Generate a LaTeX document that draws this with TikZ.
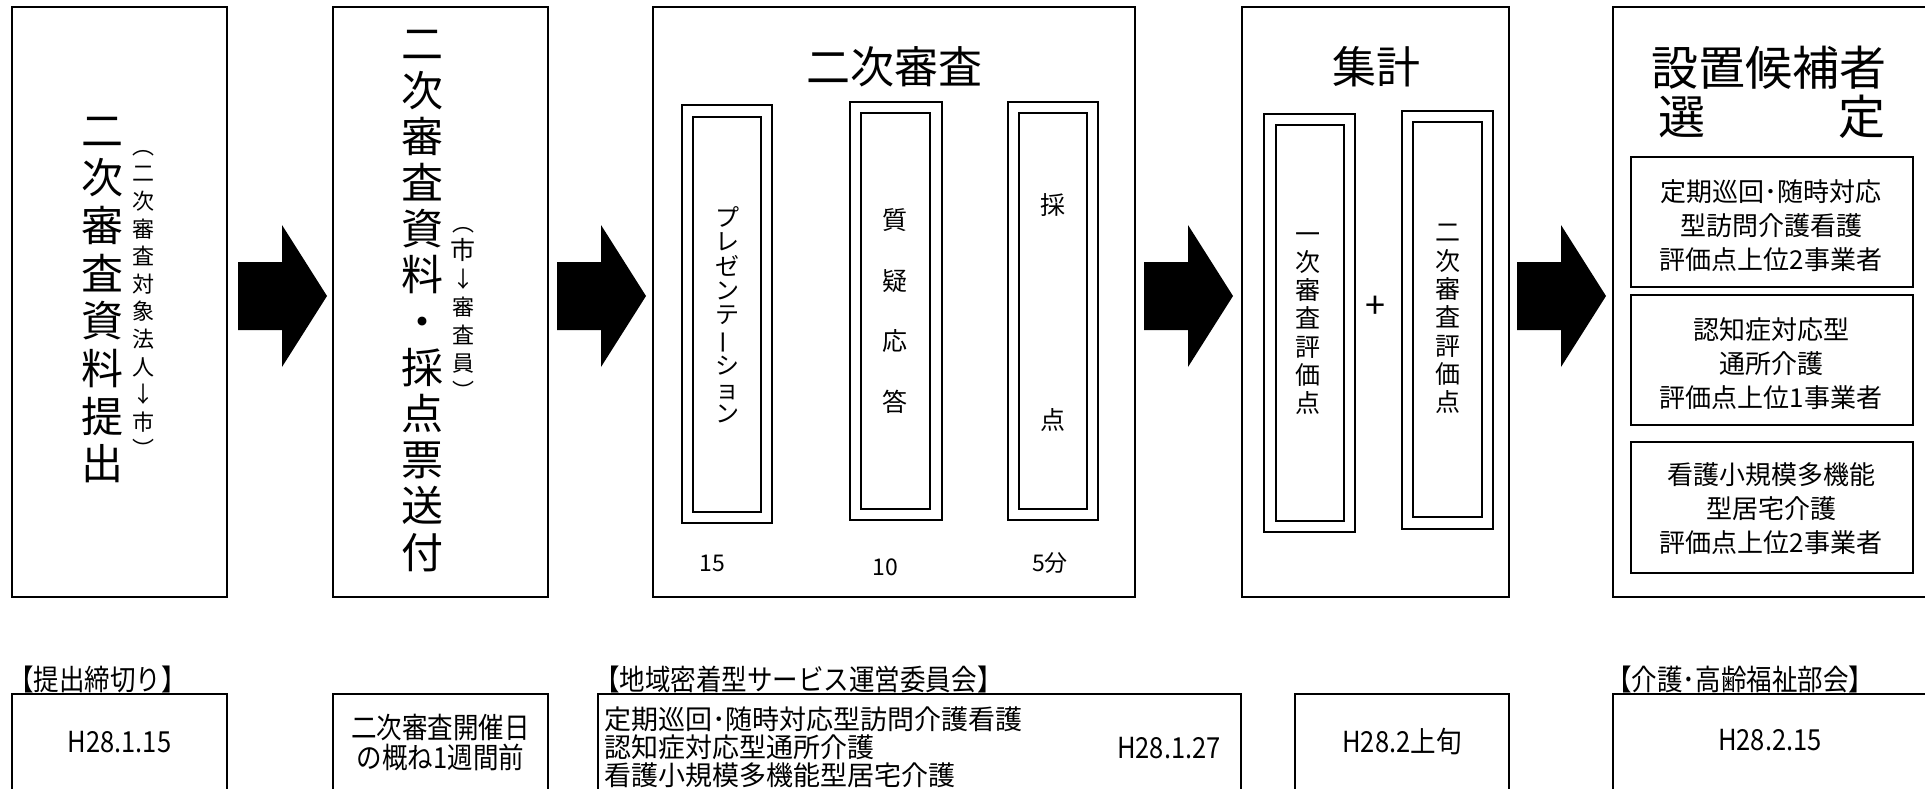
\documentclass[tikz,border=0pt]{standalone}
\usepackage{fontspec}
\usepackage{graphicx}
\setmainfont{Noto Sans CJK JP}
\newfontfamily\jpn[FakeStretch=0.88]{Noto Sans CJK JP}
\newcommand{\fsz}[2]{\fontsize{#1}{#2}\selectfont}
\newcommand{\vbar}{\rotatebox[origin=c]{90}{ー}}
\begin{document}
\begin{tikzpicture}[x=1pt,y=-1pt,
  frame/.style={draw, line width=2.4pt, inner sep=0pt},
  dbl/.style={draw, line width=2.2pt, inner sep=0pt},
  sub/.style={draw, line width=2pt, inner sep=0pt},
  vtext/.style={align=center, inner sep=0pt},
  title/.style={inner sep=0pt, font=\fsz{44}{50}},
  arrowfill/.style={fill=black},
  lab/.style={inner sep=0pt, anchor=west, font=\jpn\fsz{29}{29}},
  btext/.style={inner sep=0pt, align=center, font=\jpn\fsz{29}{30}}]
\useasboundingbox (0,0) rectangle (1925,789);
\clip (0,0) rectangle (1925,789);
\fill[white] (0,0) rectangle (1925,789);

% main boxes
\node[frame, minimum width=215, minimum height=590] (b1) at (119.5,302) {};
\node[frame, minimum width=215, minimum height=590] (b2) at (440.5,302) {};
\node[frame, minimum width=482, minimum height=590] (b3) at (894,302) {};
\node[frame, minimum width=267, minimum height=590] (b4) at (1375.5,302) {};
\node[frame, minimum width=327, minimum height=590] (b5) at (1776.5,302) {};

% box 1 texts
\node[vtext, font=\fsz{42}{47.7}] (t1) at (102,300) {二\\次\\審\\査\\資\\料\\提\\出};
\node[vtext, font=\fsz{22}{27.6}] (t1s) at (143,304) {︵\\二\\次\\審\\査\\対\\象\\法\\人\\↓\\市\\︶};

% box 2 texts
\node[vtext, font=\fsz{42}{46.2}] (t2) at (422,301) {二\\次\\審\\査\\資\\料\\・\\採\\点\\票\\送\\付};
\node[vtext, font=\fsz{22}{28}] (t2s) at (463,313) {︵\\{\fsz{25}{28}市}\\↓\\審\\査\\員\\︶};

% box 3
\node[title] (t3) at (894,67) {二次審査};
\node[dbl, minimum width=90, minimum height=418] (p1) at (727,314) {};
\node[sub, minimum width=68, minimum height=395] (p2) at (727,314.5) {};
\node[dbl, minimum width=92, minimum height=418] (q1) at (896,311) {};
\node[sub, minimum width=69, minimum height=396] (q2) at (895.5,311) {};
\node[dbl, minimum width=90, minimum height=418] (s1) at (1053,311) {};
\node[sub, minimum width=68, minimum height=396] (s2) at (1053,311) {};
\node[vtext, font=\fsz{24}{24.3}] (pt) at (727,315) {プ\\レ\\ゼ\\ン\\テ\\\vbar\\シ\\ョ\\ン};
\node[vtext, font=\fsz{25}{60.7}] (qt) at (895,311) {質\\疑\\応\\答};
\node[vtext, font=\fsz{25}{215}] (st) at (1053,312.5) {採\\点};
\node[inner sep=0pt, font=\fsz{23}{23}] (m15) at (712,563) {15};
\node[inner sep=0pt, font=\fsz{23}{23}] (m10) at (885,567) {10};
\node[inner sep=0pt, font=\fsz{23}{23}] (m5) at (1050,563) {5分};

% box 4
\node[title] (t4) at (1376,67) {集計};
\node[dbl, minimum width=91, minimum height=418] (e1) at (1309.5,323) {};
\node[sub, minimum width=68, minimum height=396] (e1i) at (1310,323) {};
\node[dbl, minimum width=91, minimum height=418] (e2) at (1447.5,320) {};
\node[sub, minimum width=69, minimum height=395] (e2i) at (1447.5,319.5) {};
\node[vtext, font=\fsz{25}{28.2}] (e1t) at (1308,323.5) {一\\次\\審\\査\\評\\価\\点};
\node[vtext, font=\fsz{25}{28.3}] (e2t) at (1448,319) {二\\次\\審\\査\\評\\価\\点};
\node[inner sep=0pt, font=\fsz{36}{36}] (plus) at (1375,307) {+};

% box 5
\node[inner sep=0pt, font=\fsz{47}{50}] (t5) at (1769,68) {設置候補者};
\node[inner sep=0pt, font=\fsz{47}{50}] (t5a) at (1682,117) {選};
\node[inner sep=0pt, font=\fsz{47}{50}] (t5b) at (1862,117) {定};
\node[sub, minimum width=282, minimum height=130, align=center, font=\fsz{26}{34}] (r1) at (1772,222) {};
\node[sub, minimum width=282, minimum height=130, align=center, font=\fsz{26}{34}] (r2) at (1772,360) {};
\node[sub, minimum width=282, minimum height=131, align=center, font=\fsz{26}{34}] (r3) at (1772,507.5) {};
\node[vtext, font=\fsz{26}{34}] (r1t) at (1771,226) {定期巡回･随時対応\\型訪問介護看護\\評価点上位2事業者};
\node[vtext, font=\fsz{26}{34}] (r2t) at (1771,364) {認知症対応型\\通所介護\\評価点上位1事業者};
\node[vtext, font=\fsz{26}{34}] (r3t) at (1771,509) {看護小規模多機能\\型居宅介護\\評価点上位2事業者};

% block arrows
\coordinate (a1) at (238,296);
\coordinate (a2) at (557,296);
\coordinate (a3) at (1144,296);
\coordinate (a4) at (1517,296);
\foreach \a in {a1,a2,a3,a4}{
  \fill[arrowfill] (\a) ++(0,-34) -- ++(44,0) -- ++(0,-37) -- ++(45,71) -- ++(-45,71) -- ++(0,-37) -- ++(-44,0) -- cycle;
}

% bottom row
\node[lab] (l1) at (8,679) {【提出締切り】};
\node[lab] (l3) at (594,679) {【地域密着型サービス運営委員会】};
\node[lab] (l5) at (1606,679) {【介護･高齢福祉部会】};
\node[frame, minimum width=215, minimum height=120] (d1) at (119.5,754) {};
\node[frame, minimum width=215, minimum height=120] (d2) at (440.5,754) {};
\node[frame, minimum width=643, minimum height=120] (d3) at (919.5,754) {};
\node[frame, minimum width=214, minimum height=120] (d4) at (1402,754) {};
\node[frame, minimum width=327, minimum height=120] (d5) at (1776.5,754) {};
\node[btext] (d1t) at (119.5,742) {H28.1.15};
\node[btext] (d2t) at (440.5,742) {二次審査開催日\\の概ね1週間前};
\node[inner sep=0pt, align=left, anchor=west, font=\fsz{27}{28}] (d3t) at (604,747) {定期巡回･随時対応型訪問介護看護\\認知症対応型通所介護\\看護小規模多機能型居宅介護};
\node[btext] (d3d) at (1169,748) {H28.1.27};
\node[btext] (d4t) at (1402,742) {H28.2上旬};
\node[btext] (d5t) at (1770,740) {H28.2.15};
\end{tikzpicture}
\end{document}
